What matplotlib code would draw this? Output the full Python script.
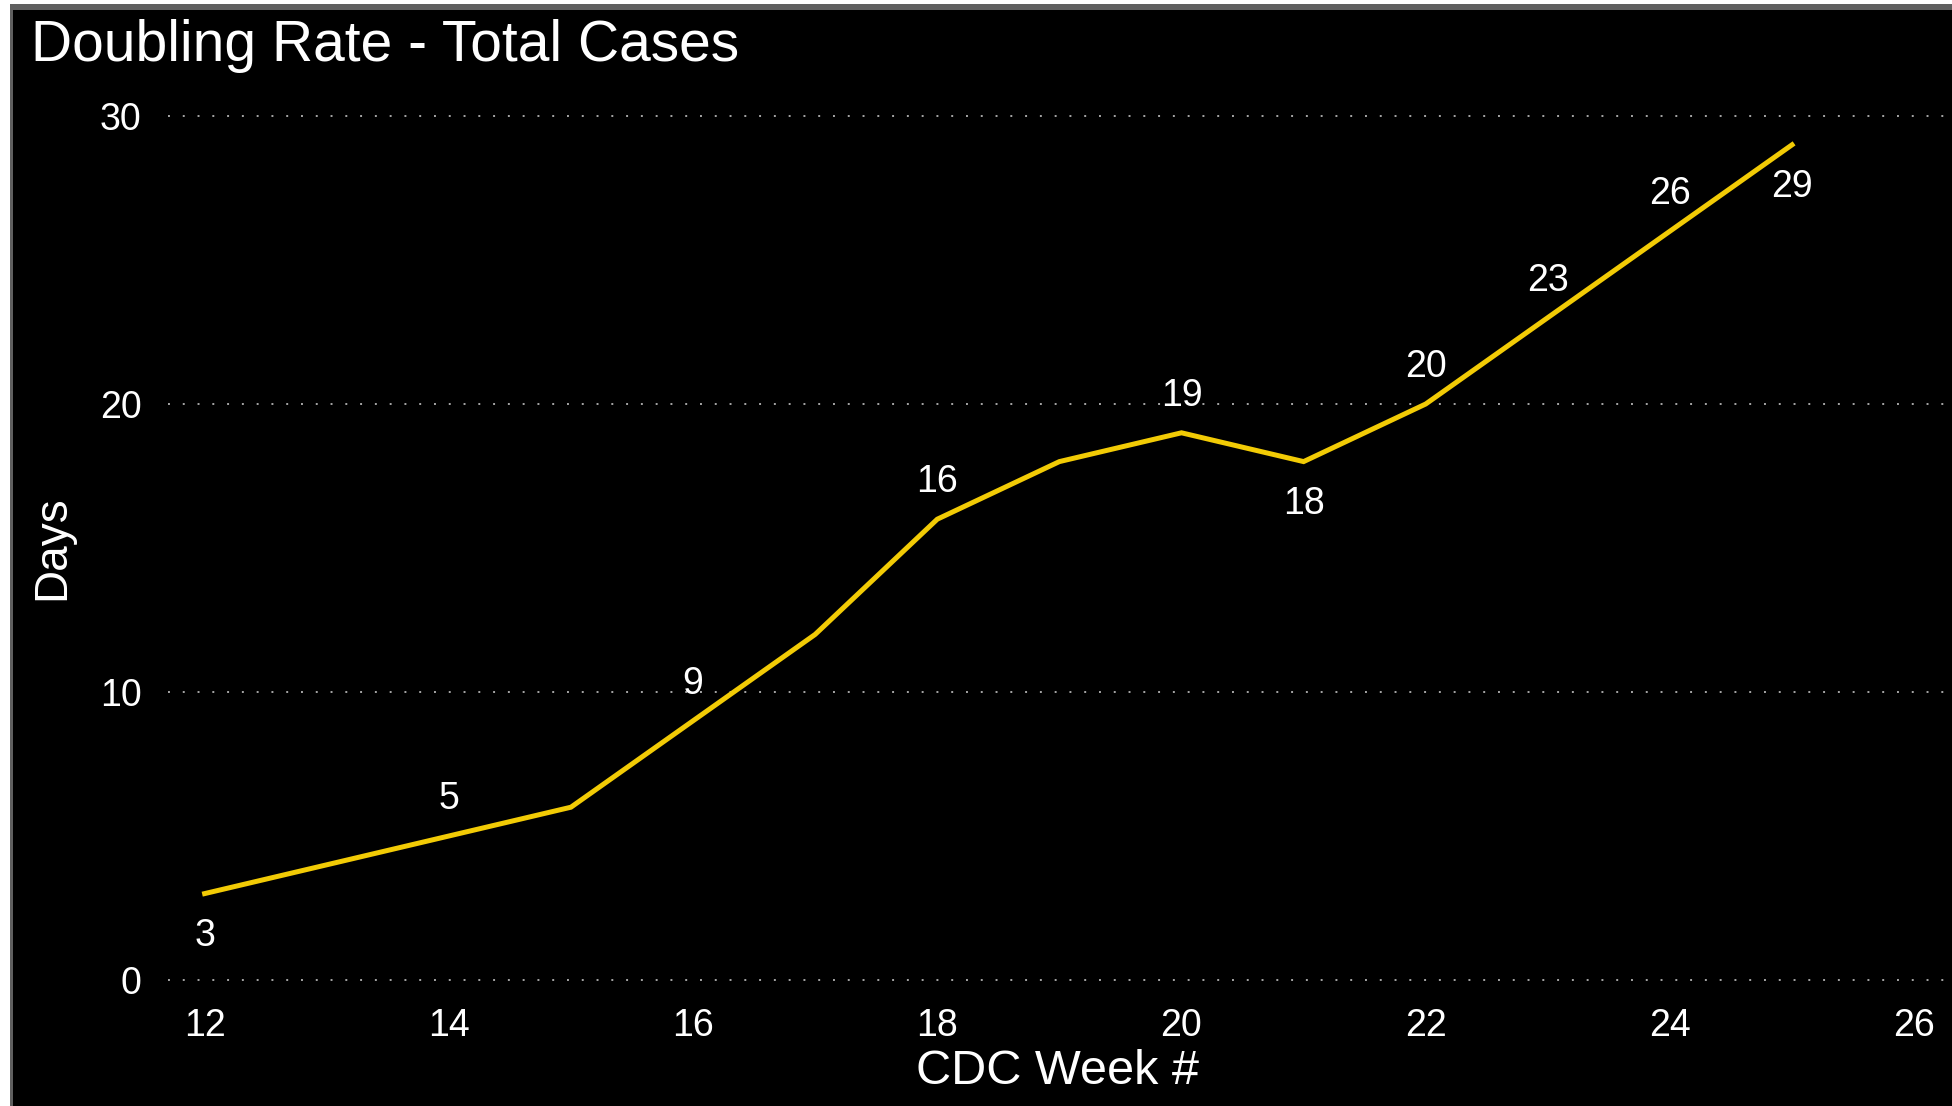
import matplotlib
matplotlib.use("Agg")
import matplotlib.pyplot as plt
from matplotlib.patches import Rectangle

weeks = [12, 13, 14, 15, 16, 17, 18, 19, 20, 21, 22, 23, 24, 25]
days = [3, 4, 5, 6, 9, 12, 16, 18, 19, 18, 20, 23, 26, 29]
label_weeks = [12, 14, 16, 18, 20, 21, 22, 23, 24, 25]
label_side = ["below", "above", "above", "above", "above", "below", "above", "above", "above", "below"]
x_ticks = [12, 14, 16, 18, 20, 22, 24, 26]
y_ticks = [0, 10, 20, 30]

title = "Doubling Rate - Total Cases"
x_label = "CDC Week #"
y_label = "Days"

W, H = 1952, 1106
fig = plt.figure(figsize=(W / 100, H / 100), dpi=100)
fig.patch.set_facecolor("white")
FONT = "Liberation Sans"

# panel background and border
fig.patches.append(Rectangle((10 / W, 0), 1 - 10 / W, 1 - 4 / H, transform=fig.transFigure,
                             facecolor="#5f5f5f", edgecolor="none", zorder=-2))
fig.patches.append(Rectangle((13 / W, 0), 1 - 13 / W, 1 - 10 / H, transform=fig.transFigure,
                             facecolor="black", edgecolor="none", zorder=-1))

x0, x1 = 11.70, 26.31
y0, y1 = -0.5, 30.5
left = 168 / W
bottom = (H - (980 + 0.5 * 28.8)) / H
top = (H - (116 - 0.5 * 28.8)) / H
ax = fig.add_axes([left, bottom, 1 - left, top - bottom])
ax.set_facecolor("none")
ax.set_xlim(x0, x1)
ax.set_ylim(y0, y1)
for s in ax.spines.values():
    s.set_visible(False)

for yv in y_ticks:
    ax.axhline(yv, color="#a6a6a6", lw=1.4, linestyle=(0, (1, 6.6)), zorder=1)

ax.plot(weeks, days, color="#F2CB05", lw=3.6, solid_joinstyle="miter", zorder=3)

ax.set_xticks(x_ticks)
ax.set_yticks(y_ticks)
ax.tick_params(length=0, colors="white", labelsize=27, pad=10)
ax.tick_params(axis="y", pad=19)
for lab in ax.get_xticklabels() + ax.get_yticklabels():
    lab.set_fontfamily(FONT)
    lab.set_color("white")

lookup = dict(zip(weeks, days))
for wk, side in zip(label_weeks, label_side):
    v = lookup[wk]
    off = 37 if side == "above" else -42
    ax.annotate(str(v), (wk, v), xytext=(0, off), textcoords="offset pixels",
                ha="center", va="center", color="white", fontsize=27, fontfamily=FONT, zorder=4)

fig.text(31 / W, 1 - 46 / H, title, ha="left", va="center", color="white", fontsize=41, fontfamily=FONT)
fig.text((203 + 1913) / 2 / W, 1 - 1071 / H, x_label, ha="center", va="center", color="white",
         fontsize=35, fontfamily=FONT)
fig.text(52 / W, 1 - 548 / H, y_label, ha="center", va="center", rotation=90, color="white",
         fontsize=33, fontfamily=FONT)

fig.savefig("out.png", dpi=100, facecolor=fig.get_facecolor())
